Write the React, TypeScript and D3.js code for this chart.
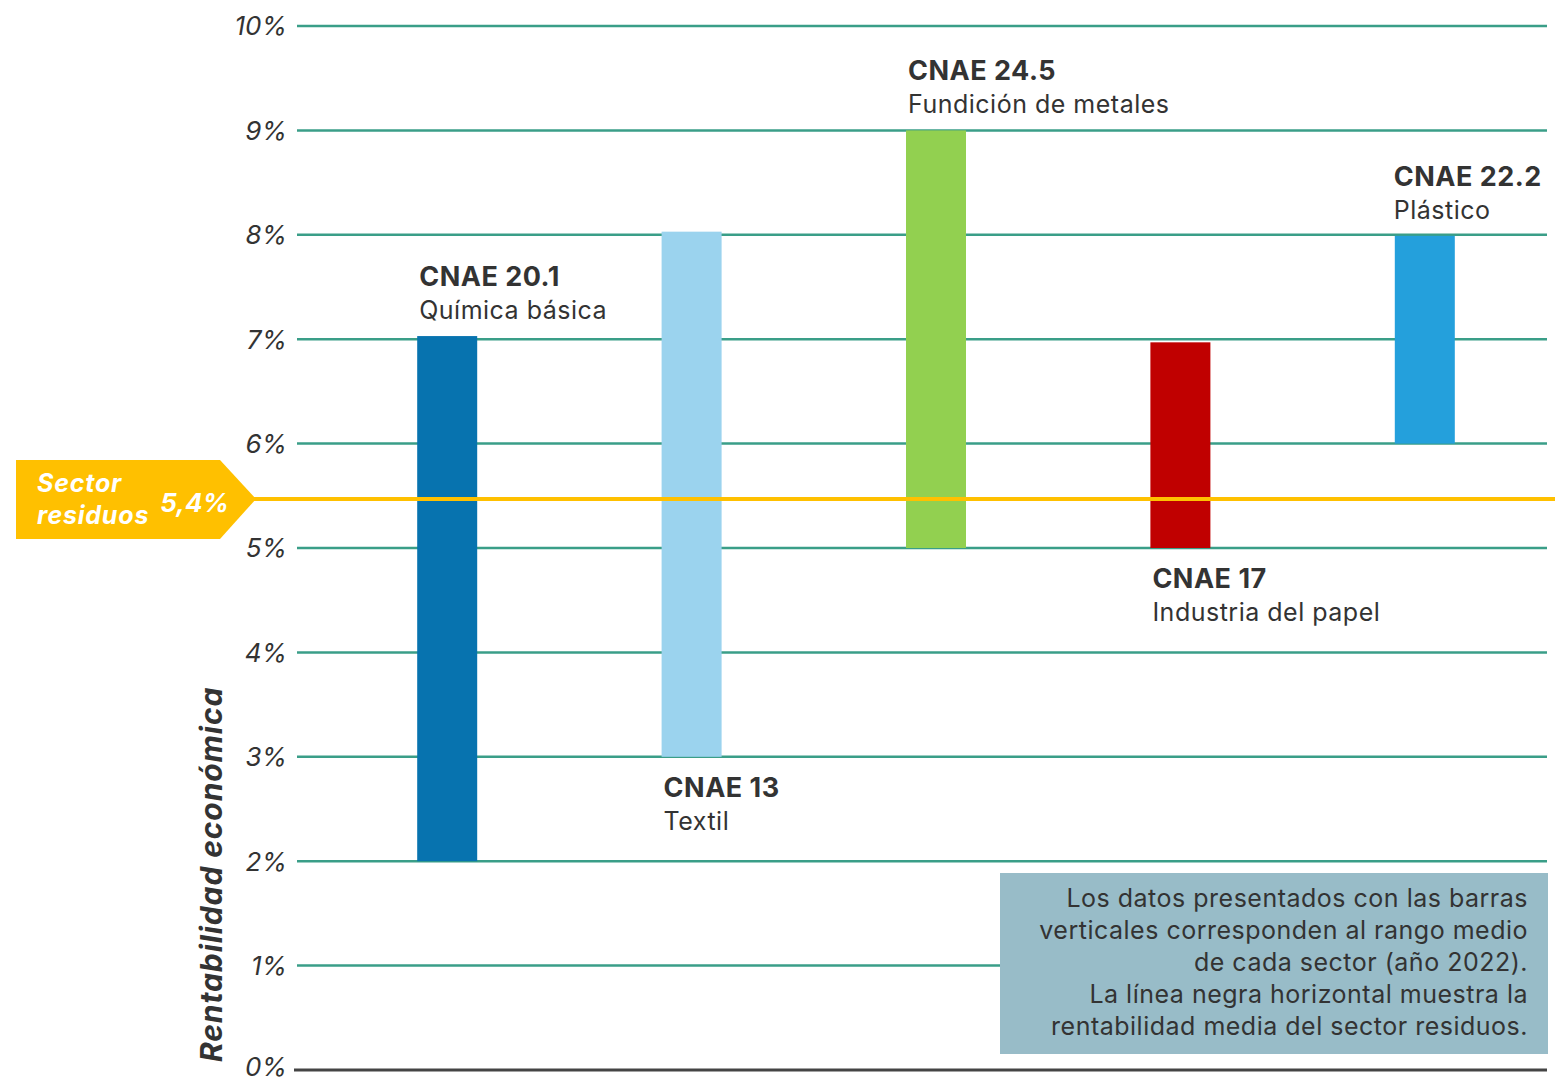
import React from "react";
import * as d3 from "d3";

const categories = ["CNAE 20.1", "CNAE 13", "CNAE 24.5", "CNAE 17", "CNAE 22.2"];
const subtitles = ["Química básica", "Textil", "Fundición de metales", "Industria del papel", "Plástico"];
const lowValues = [2.0, 3.0, 5.0, 5.0, 6.0];
const highValues = [7.03, 8.03, 9.0, 6.97, 7.99];
const barColors = ["#0773AF", "#9BD3EE", "#92D050", "#C00000", "#24A0DC"];
const labelAbove = [true, false, true, false, true];
const tickValues = [0, 1, 2, 3, 4, 5, 6, 7, 8, 9, 10];
const sectorValue = 5.47;
const sectorLabel = "5,4%";
const noteLines = [
  "Los datos presentados con las barras",
  "verticales corresponden al rango medio",
  "de cada sector (año 2022).",
  "La línea negra horizontal muestra la",
  "rentabilidad media del sector residuos.",
];

const W = 1555;
const H = 1079;
const FONT = "Inter, 'Open Sans', sans-serif";

export default function App() {
  const y = d3.scaleLinear().domain([0, 10]).range([1070, 26]);
  const x = d3.scaleBand<string>().domain(categories).range([325, 1547]);
  const barW = 60;
  const ys = y(sectorValue);

  return (
    <svg width={W} height={H} style={{ position: "absolute", left: 0, top: 0, background: "#fff" }}>
      {tickValues.map((t) => (
        <g key={t}>
          <line
            x1={t === 0 ? 294 : 297}
            x2={1547}
            y1={y(t)}
            y2={y(t)}
            stroke={t === 0 ? "#444" : "#3a9e88"}
            strokeWidth={t === 0 ? 3 : 2.5}
          />
          <text
            x={287}
            y={y(t)}
            dy={t === 0 ? "0.22em" : "0.36em"}
            textAnchor="end"
            fontFamily={FONT}
            fontStyle="italic"
            fontSize={26}
            fill="#333"
          >
            {t}%
          </text>
        </g>
      ))}

      {categories.map((c, i) => {
        const cx = (x(c) as number) + x.bandwidth() / 2;
        return (
          <rect
            key={c}
            x={cx - barW / 2}
            y={y(highValues[i])}
            width={barW}
            height={y(lowValues[i]) - y(highValues[i])}
            fill={barColors[i]}
          />
        );
      })}

      <line x1={250} x2={1555} y1={ys} y2={ys} stroke="#FFC000" strokeWidth={4} />
      <path
        d={`M16,${ys - 39} L220,${ys - 39} L256,${ys} L220,${ys + 40} L16,${ys + 40} Z`}
        fill="#FFC000"
      />
      <text x={37} y={ys - 7} fontFamily={FONT} fontStyle="italic" fontWeight={700} fontSize={25} letterSpacing={0.8} fill="#fff">
        Sector
      </text>
      <text x={37} y={ys + 25} fontFamily={FONT} fontStyle="italic" fontWeight={700} fontSize={25} letterSpacing={0.8} fill="#fff">
        residuos
      </text>
      <text x={229} y={ys + 13} textAnchor="end" fontFamily={FONT} fontStyle="italic" fontWeight={700} fontSize={26} fill="#fff">
        {sectorLabel}
      </text>

      {categories.map((c, i) => {
        const cx = (x(c) as number) + x.bandwidth() / 2;
        const lx = cx - barW / 2 + (i === 4 ? -1 : 2);
        const base = labelAbove[i] ? y(highValues[i]) - 50 : y(lowValues[i]) + 40;
        return (
          <g key={c + "l"}>
            <text x={lx} y={base} fontFamily={FONT} fontWeight={700} fontSize={27} letterSpacing={0.5} fill="#333">
              {c}
            </text>
            <text x={lx} y={base + 33} fontFamily={FONT} fontSize={25} letterSpacing={0.5} fill="#333">
              {subtitles[i]}
            </text>
          </g>
        );
      })}

      <text
        transform="translate(222,1062) rotate(-90)"
        fontFamily={FONT}
        fontStyle="italic"
        fontWeight={700}
        fontSize={30}
        letterSpacing={0.9}
        fill="#333"
      >
        Rentabilidad económica
      </text>

      <rect x={1000} y={873} width={548} height={181} fill="#98BCC8" />
      {noteLines.map((l, i) => (
        <text
          key={i}
          x={1528}
          y={907 + i * 32}
          textAnchor="end"
          fontFamily={FONT}
          fontSize={25}
          letterSpacing={0.5}
          fill="#333"
        >
          {l}
        </text>
      ))}
    </svg>
  );
}
